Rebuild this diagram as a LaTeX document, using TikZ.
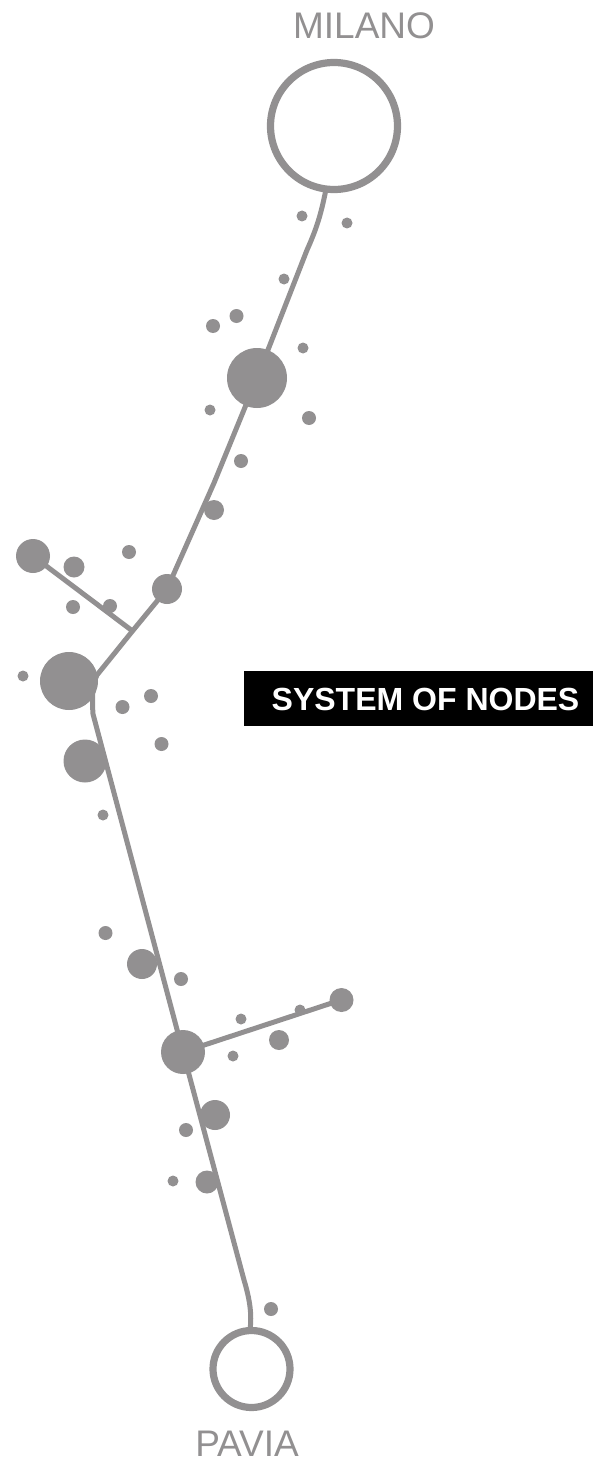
\documentclass[tikz,border=0pt]{standalone}
\usepackage{fontspec}
\setmainfont{Liberation Sans}
\definecolor{nodegrey}{RGB}{146,144,145}
\tikzset{
  bigstop/.style={circle,draw=nodegrey,line width=7.2pt,fill=white,inner sep=0pt},
  stopdot/.style={circle,fill=nodegrey,inner sep=0pt},
  railline/.style={draw=nodegrey,line width=5pt},
  citylabel/.style={text=nodegrey,font=\fontsize{37}{37}\selectfont,inner sep=0pt},
}
\begin{document}
\begin{tikzpicture}[x=1pt,y=-1pt]
\useasboundingbox (0,0) rectangle (593,1463);

% Lines
\coordinate (milanoEnd) at (326,189);
\coordinate (pavEnd) at (250,1330);
\coordinate (bendA) at (307,250);
\coordinate (joinA) at (132.5,631);
\draw [railline] (milanoEnd) .. controls (321,215) and (316,230) .. (bendA) -- (257,378) -- (214,483) -- (167,589) -- (joinA) -- (97,675) .. controls (92,685) and (92,700) .. (93,714) -- (183,1052) -- (244,1280) .. controls (250,1300) and (252,1315) .. (pavEnd);
\draw [railline] (33,556) -- (joinA);
\draw [railline] (183,1052) -- (341,1000);

% Terminals
\node [bigstop,minimum size=127pt] (milano) at (334,126) {};
\node [bigstop,minimum size=77pt] (pavia) at (251.5,1369) {};
\node [citylabel] (milanoText) at (364,26) {MILANO};
\node [citylabel] (paviaText) at (247,1444) {PAVIA};

% Dots
\foreach \n/\px/\py/\d in {
  a/257/378/60, b/214/510/20, c/167/589/30, d/33/556/34, e/74/567/21,
  f/69/681/58, g/85/761/43, h/142/964/30, i/183/1052/44, j/341.5/1000/24,
  k/279/1040/20, l/215/1115/30, m/207/1182/23,
  n/302/216/11, o/347/223/11, p/284/279/11, q/213/326/14, r/236.5/316/14,
  s/303/348/11, t/210/410/11, u/309/418/14, v/241/461/14, w/129/552/14,
  x/73/607/14, y/110/606/14, z/23/676/11, aa/122.5/707/14, ab/151/696/14,
  ac/161.5/744/14, ad/103/815/11, ae/105.5/933/14, af/181/979/14, ag/241/1019/11,
  ah/300/1010/11, ai/233/1056/11, aj/186/1130/14, ak/173/1181/11, al/271/1309/14}
  \node [stopdot,minimum size=\d pt] (dot\n) at (\px,\py) {};

% Text Node
\node [fill=black,anchor=north west,minimum width=349pt,minimum height=55pt,inner sep=0pt] (sysbox) at (244,671) {};
\node [text=white,font=\bfseries\fontsize{32}{32}\selectfont,inner sep=0pt] (sysText) at (425.5,699) {SYSTEM OF NODES};
\end{tikzpicture}
\end{document}
